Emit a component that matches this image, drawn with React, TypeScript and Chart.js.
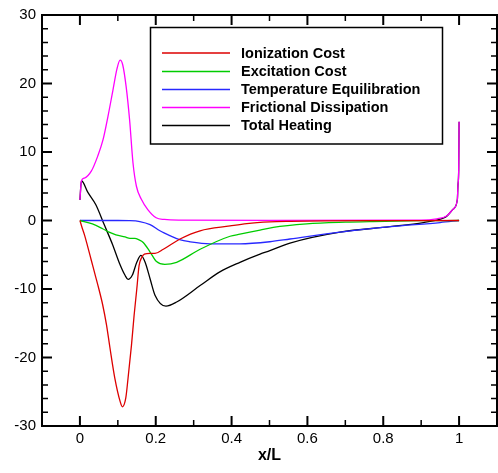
import React, { useEffect, useRef } from "react";
import { Chart, registerables } from "chart.js";

Chart.register(...registerables);

// ---- Data ----
const seriesNames = [
  "Ionization Cost",
  "Excitation Cost",
  "Temperature Equilibration",
  "Frictional Dissipation",
  "Total Heating",
];
const seriesColors = ["#dd0000", "#00cc00", "#2828ff", "#ff00ff", "#000000"];

const ionX = [0, 0.006, 0.012, 0.020, 0.030, 0.040, 0.050, 0.060, 0.070, 0.079, 0.092, 0.106, 0.112, 0.121, 0.127, 0.136, 0.143, 0.150, 0.156, 0.163, 0.170, 0.185, 0.198, 0.220, 0.264, 0.317, 0.396, 0.440, 0.501, 0.554, 0.650, 0.800, 1.0];
const ionY = [0, -1.1, -2.1, -3.7, -5.8, -7.9, -10.0, -12.3, -15.2, -18.5, -23.0, -26.4, -27.2, -25.9, -23.0, -18.2, -13.8, -10.0, -6.6, -5.4, -4.9, -4.8, -4.8, -4.2, -2.7, -1.5, -0.8, -0.45, -0.2, -0.12, -0.05, -0.02, 0];

const excX = [0, 0.033, 0.060, 0.077, 0.095, 0.119, 0.132, 0.145, 0.155, 0.167, 0.185, 0.202, 0.224, 0.255, 0.317, 0.396, 0.422, 0.475, 0.510, 0.598, 0.700, 0.773, 0.900, 1.0];
const excY = [0, -0.5, -1.2, -1.7, -2.1, -2.4, -2.6, -2.6, -2.8, -3.2, -4.6, -6.0, -6.4, -6.1, -4.2, -2.3, -2.0, -1.4, -1.0, -0.5, -0.25, -0.15, -0.03, 0];

const tempX = [0, 0.100, 0.130, 0.158, 0.185, 0.211, 0.237, 0.263, 0.290, 0.343, 0.422, 0.501, 0.554, 0.686, 0.818, 0.950, 1.0];
const tempY = [0, 0, -0.02, -0.15, -0.6, -1.5, -2.2, -2.8, -3.1, -3.4, -3.4, -3.1, -2.7, -1.7, -0.9, -0.3, 0];

const fricX = [0, 0.004, 0.012, 0.030, 0.047, 0.061, 0.074, 0.087, 0.098, 0.106, 0.113, 0.122, 0.131, 0.140, 0.149, 0.162, 0.179, 0.201, 0.223, 0.260, 0.500, 0.900, 0.941, 0.967, 0.985, 0.9955, 0.997, 0.999, 1.0];
const fricY = [3.0, 5.8, 6.2, 7.2, 9.4, 11.8, 15.2, 19.0, 22.2, 23.4, 22.7, 19.5, 14.7, 8.4, 5.0, 3.1, 1.6, 0.4, 0.15, 0.05, 0.02, 0.05, 0.25, 0.65, 1.7, 3.1, 5.1, 7.4, 14.4];

const totX = [0, 0.004, 0.021, 0.042, 0.064, 0.086, 0.104, 0.119, 0.127, 0.138, 0.150, 0.161, 0.172, 0.185, 0.198, 0.227, 0.255, 0.317, 0.369, 0.422, 0.475, 0.501, 0.554, 0.686, 0.818, 0.906, 0.950, 0.967, 0.985, 0.9955, 0.997, 0.999, 1.0];
const totY = [3.0, 5.8, 4.1, 2.3, -0.6, -3.5, -6.2, -8.0, -8.6, -8.0, -6.1, -5.1, -6.1, -8.5, -10.9, -12.5, -11.9, -9.5, -7.5, -6.1, -4.9, -4.4, -3.3, -1.7, -0.9, -0.3, 0.2, 0.6, 1.7, 3.1, 5.1, 7.4, 14.4];

const seriesX = [ionX, excX, tempX, fricX, totX];
const seriesY = [ionY, excY, tempY, fricY, totY];

const xTickValues = [0, 0.2, 0.4, 0.6, 0.8, 1];
const xMinorValues = [0.1, 0.3, 0.5, 0.7, 0.9];
const yTickValues = [-30, -20, -10, 0, 10, 20, 30];
const xTitle = "x/L";

const FONT = "'Liberation Sans', Arial, Helvetica, sans-serif";

const framePlugin = {
  id: "frameTicks",
  afterDatasetsDraw(chart: any) {
    const { ctx, chartArea } = chart;
    const xs = chart.scales.x;
    const ys = chart.scales.y;
    const { left, right, top, bottom } = chartArea;
    ctx.save();
    ctx.strokeStyle = "#000";
    ctx.lineCap = "butt";
    const majorLen = 10;
    const minorLen = 6;
    const drawV = (px: number, len: number, w: number) => {
      ctx.lineWidth = w;
      ctx.beginPath();
      ctx.moveTo(px, bottom);
      ctx.lineTo(px, bottom - len);
      ctx.moveTo(px, top);
      ctx.lineTo(px, top + len);
      ctx.stroke();
    };
    const drawH = (py: number, len: number, w: number) => {
      ctx.lineWidth = w;
      ctx.beginPath();
      ctx.moveTo(left, py);
      ctx.lineTo(left + len, py);
      ctx.moveTo(right, py);
      ctx.lineTo(right - len, py);
      ctx.stroke();
    };
    xTickValues.forEach((v) => drawV(xs.getPixelForValue(v), majorLen, 2));
    xMinorValues.forEach((v) => drawV(xs.getPixelForValue(v), minorLen, 1.5));
    for (let v = -28; v < 30; v += 2) {
      if (v % 10 === 0) drawH(ys.getPixelForValue(v), majorLen, 2);
      else drawH(ys.getPixelForValue(v), minorLen, 1.5);
    }
    ctx.lineWidth = 2;
    ctx.strokeRect(left, top, right - left, bottom - top);

    // legend box
    const bx = 150.5, by = 27.5, bw = 292, bh = 116.5;
    ctx.fillStyle = "#fff";
    ctx.fillRect(bx, by, bw, bh);
    ctx.lineWidth = 1.5;
    ctx.strokeStyle = "#000";
    ctx.strokeRect(bx, by, bw, bh);
    const rows = [53, 71.5, 89.5, 107.5, 125.5];
    ctx.font = `bold 14.5px ${FONT}`;
    ctx.textBaseline = "middle";
    ctx.textAlign = "left";
    seriesNames.forEach((name, i) => {
      ctx.strokeStyle = seriesColors[i];
      ctx.lineWidth = 1.3;
      ctx.beginPath();
      ctx.moveTo(162, rows[i]);
      ctx.lineTo(230, rows[i]);
      ctx.stroke();
      ctx.fillStyle = "#000";
      ctx.fillText(name, 241, rows[i] + 0.5);
    });
    ctx.restore();
  },
};

export default function App() {
  const ref = useRef<HTMLCanvasElement | null>(null);
  useEffect(() => {
    if (!ref.current) return;
    const datasets = seriesNames.map((name, i) => ({
      label: name,
      data: seriesX[i].map((x, j) => ({ x, y: seriesY[i][j] })),
      borderColor: seriesColors[i],
      backgroundColor: seriesColors[i],
      borderWidth: 1.3,
      pointRadius: 0,
      fill: false,
      cubicInterpolationMode: "monotone" as const,
    }));
    const chart = new Chart(ref.current, {
      type: "line",
      data: { datasets },
      options: {
        animation: false,
        responsive: false,
        devicePixelRatio: 1,
        layout: { padding: { top: 11, right: 1, left: 0, bottom: 0 } },
        plugins: {
          legend: { display: false },
          tooltip: { enabled: false },
        },
        scales: {
          x: {
            type: "linear",
            min: -0.1,
            max: 1.1,
            grid: { display: false, drawTicks: false },
            border: { display: false },
            afterBuildTicks: (scale: any) => {
              scale.ticks = xTickValues.map((v) => ({ value: v }));
            },
            afterFit: (scale: any) => {
              scale.height = 47;
            },
            ticks: {
              padding: 4,
              color: "#000",
              font: { family: FONT, size: 15 },
              maxRotation: 0,
              autoSkip: false,
              callback: (v: any) => String(Math.round(Number(v) * 10) / 10),
            },
            title: {
              display: true,
              text: xTitle,
              color: "#000",
              font: { family: FONT, size: 16, weight: "bold" },
              padding: { top: 0, bottom: 8 },
            },
          },
          y: {
            type: "linear",
            min: -30,
            max: 30,
            grid: { display: false, drawTicks: false },
            border: { display: false },
            afterBuildTicks: (scale: any) => {
              scale.ticks = yTickValues.map((v) => ({ value: v }));
            },
            afterFit: (scale: any) => {
              scale.width = 42;
            },
            ticks: {
              padding: 6,
              color: "#000",
              font: { family: FONT, size: 15 },
              callback: (v: any) => String(v),
            },
          },
        },
      },
      plugins: [framePlugin],
    });
    return () => chart.destroy();
  }, []);
  return (
    <div style={{ position: "fixed", left: 0, top: 0, width: 498, height: 473, background: "#fff" }}>
      <canvas ref={ref} width={498} height={473} style={{ display: "block" }} />
    </div>
  );
}
